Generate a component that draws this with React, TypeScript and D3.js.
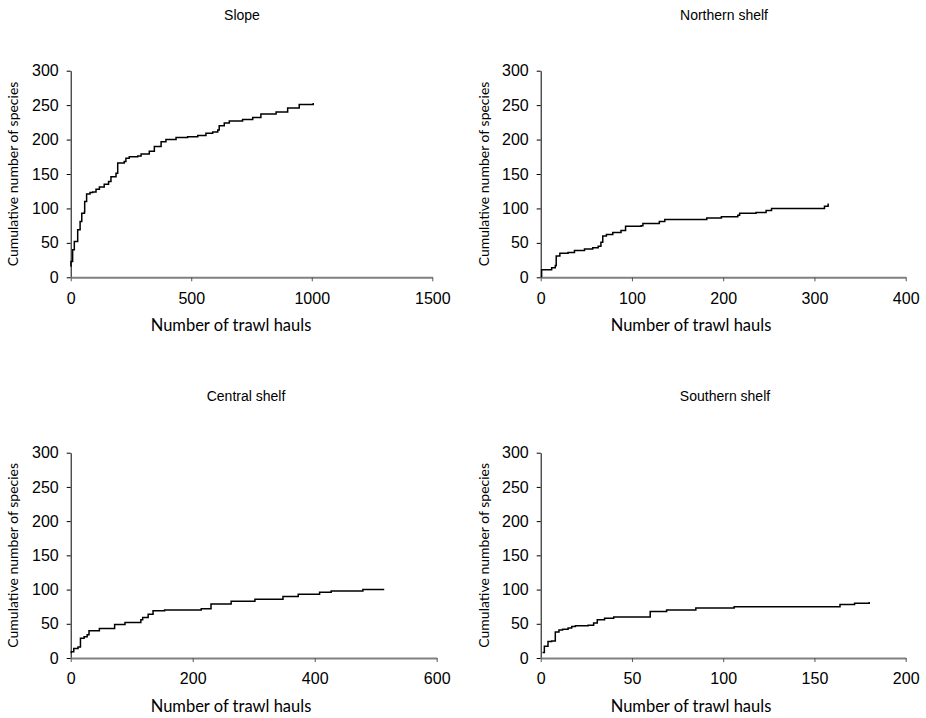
import React, { useEffect, useRef } from 'react';
import * as d3 from 'd3';

// panel titles and x-axis extents
const titles = ['Slope', 'Northern shelf', 'Central shelf', 'Southern shelf'];
const xMaxes = [1500, 400, 600, 200];
const xTickSteps = [500, 100, 200, 50];
const yTicks = [0, 50, 100, 150, 200, 250, 300];

// [number of trawl hauls, cumulative number of species]
const slope: [number, number][] = [
  [0, 16], [1, 23], [8, 40], [15, 52], [29, 69], [39, 81], [46, 93], [57, 95], [58, 110],
  [66, 121], [80, 123], [91, 124], [105, 128], [119, 131], [139, 135], [157, 139], [167, 146],
  [188, 151], [195, 166], [222, 168], [229, 173], [243, 175], [278, 176], [292, 179], [326, 183],
  [347, 190], [375, 197], [395, 200], [437, 203], [485, 204], [527, 206], [561, 209], [589, 211],
  [610, 214], [616, 220], [637, 224], [658, 227], [713, 229], [755, 232], [789, 237], [852, 240],
  [900, 246], [948, 251], [1006, 253],
];

const northern: [number, number][] = [
  [0, 1], [1, 11], [12, 14], [16, 17], [17, 31], [21, 35], [30, 36], [37, 39], [48, 41],
  [57, 43], [63, 45], [66, 51], [68, 60], [72, 62], [79, 65], [88, 68], [93, 74], [110, 75],
  [112, 78], [130, 81], [136, 84], [182, 86], [198, 88], [216, 90], [218, 93], [236, 94],
  [247, 97], [253, 100], [311, 103], [315, 107],
];

const central: [number, number][] = [
  [0, 8], [1, 9], [5, 14], [12, 16], [16, 29], [22, 31], [27, 34], [30, 40], [47, 43],
  [72, 49], [89, 52], [115, 56], [118, 59], [127, 64], [135, 69], [154, 70], [214, 72],
  [230, 79], [263, 83], [302, 86], [348, 90], [373, 93], [408, 96], [427, 98], [479, 100],
  [514, 100],
];

const southern: [number, number][] = [
  [1, 8], [2, 17], [4, 24], [6, 25], [8, 38], [10, 41], [12, 42], [15, 44], [17, 46],
  [19, 47], [26, 48], [29, 51], [31, 56], [35, 58], [40, 60], [60, 68], [69, 70], [85, 73],
  [106, 75], [164, 78], [172, 80], [180, 82],
];

const series = [slope, northern, central, southern];

// pixel boxes of the four plot areas
const boxes = [
  { left: 70.7, right: 432.3, top: 70.7, bottom: 277.3, titleX: 242, titleY: 20, xTitleX: 231, yTitleX: 18 },
  { left: 540.7, right: 905.7, top: 70.7, bottom: 277.3, titleX: 724, titleY: 20, xTitleX: 691, yTitleX: 489 },
  { left: 70.7, right: 436.7, top: 452.7, bottom: 658, titleX: 246, titleY: 401, xTitleX: 231, yTitleX: 18 },
  { left: 540.7, right: 905.7, top: 452.7, bottom: 658, titleX: 725, titleY: 401, xTitleX: 691, yTitleX: 489 },
];

const numFont = '"Liberation Sans", Arial, sans-serif';
const labelFont = 'Lato, "Open Sans", sans-serif';

export default function App() {
  const svgRef = useRef<SVGSVGElement>(null);

  useEffect(() => {
    const svg = d3.select(svgRef.current);
    svg.selectAll('*').remove();

    series.forEach((data, i) => {
      const b = boxes[i];
      const x = d3.scaleLinear().domain([0, xMaxes[i]]).range([b.left, b.right]);
      const y = d3.scaleLinear().domain([0, 300]).range([b.bottom, b.top]);
      const g = svg.append('g');

      // y axis
      const yAxis = g.append('g')
        .attr('transform', `translate(${b.left},0)`)
        .call(d3.axisLeft(y).tickValues(yTicks).tickSize(4).tickSizeOuter(0).tickPadding(8));
      yAxis.select('.domain').attr('stroke', '#000').attr('stroke-width', 1);
      yAxis.selectAll('.tick line').attr('stroke', '#000');
      yAxis.selectAll('text')
        .attr('fill', '#000')
        .style('font-family', numFont)
        .style('font-size', '16px');

      // x axis
      const xAxis = g.append('g')
        .attr('transform', `translate(0,${b.bottom})`)
        .call(d3.axisBottom(x).tickValues(d3.range(0, xMaxes[i] + 1, xTickSteps[i]))
          .tickSize(4).tickSizeOuter(0).tickPadding(11).tickFormat(d3.format('d')));
      xAxis.select('.domain').attr('stroke', '#808080').attr('stroke-width', 2);
      xAxis.selectAll('.tick line').attr('stroke', '#555');
      xAxis.selectAll('text')
        .attr('fill', '#000')
        .style('font-family', numFont)
        .style('font-size', '16px');

      // curve
      const line = d3.line<[number, number]>()
        .x(d => x(d[0]))
        .y(d => y(d[1]))
        .curve(d3.curveStepAfter);
      g.append('path')
        .datum(data)
        .attr('d', line)
        .attr('fill', 'none')
        .attr('stroke', '#000')
        .attr('stroke-width', 1.5);

      // titles
      g.append('text')
        .attr('x', b.titleX)
        .attr('y', b.titleY)
        .attr('text-anchor', 'middle')
        .style('font-family', numFont)
        .style('font-size', '14px')
        .text(titles[i]);

      g.append('text')
        .attr('x', b.xTitleX)
        .attr('y', b.bottom + 54)
        .attr('text-anchor', 'middle')
        .style('font-family', labelFont)
        .style('font-size', '16.5px')
        .text('Number of trawl hauls');

      g.append('text')
        .attr('transform', `translate(${b.yTitleX},${(b.top + b.bottom) / 2}) rotate(-90)`)
        .attr('text-anchor', 'middle')
        .style('font-family', labelFont)
        .style('font-size', '14px')
        .text('Cumulative number of species');
    });
  }, []);

  return (
    <svg
      ref={svgRef}
      width={926}
      height={718}
      style={{ position: 'absolute', left: 0, top: 0, background: '#fff' }}
    />
  );
}
